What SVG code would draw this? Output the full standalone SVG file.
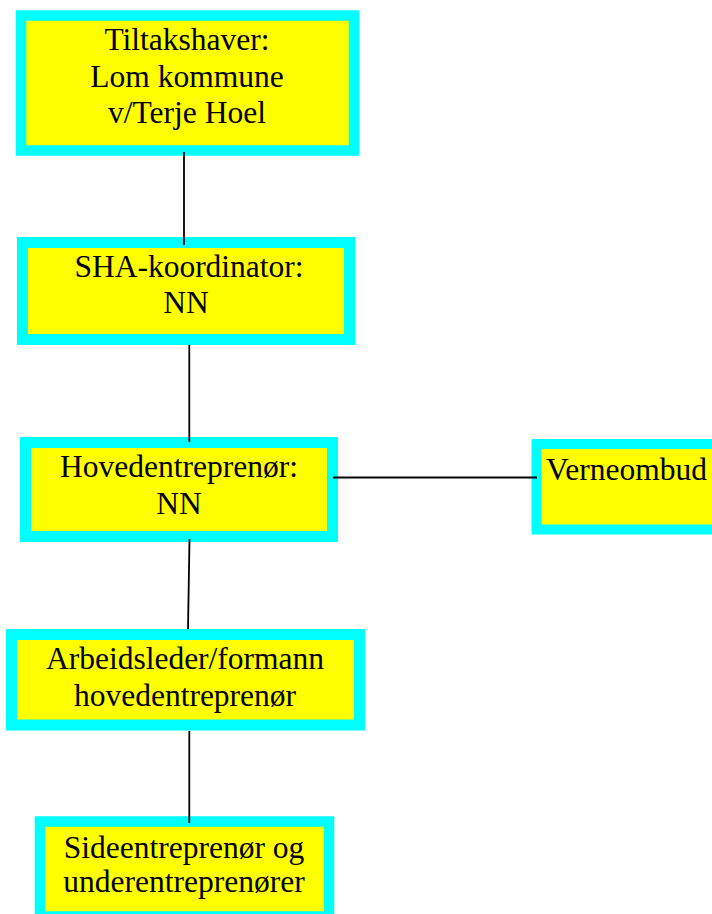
<svg xmlns="http://www.w3.org/2000/svg" width="712" height="914" viewBox="0 0 712 914">
<style>
.box{fill:#ffff00;stroke:#00ffff}
.t{font-family:"Liberation Serif","Times New Roman",serif;font-size:31.5px;fill:#000;text-anchor:middle}
.c{stroke:#000;stroke-width:1.8;fill:none}
</style>
<rect width="712" height="914" fill="#fff"/>
<g id="tiltakshaver">
<rect class="box" x="21" y="15.5" width="333" height="135" stroke-width="10.5"/>
<text class="t" x="187" y="50">Tiltakshaver:</text>
<text class="t" x="187" y="87">Lom kommune</text>
<text class="t" x="187" y="123">v/Terje Hoel</text>
</g>
<g id="sha">
<rect class="box" x="22.5" y="242.5" width="327" height="97" stroke-width="11"/>
<text class="t" x="189" y="277">SHA-koordinator:</text>
<text class="t" x="186" y="313">NN</text>
</g>
<g id="hovedentreprenor">
<rect class="box" x="25.5" y="442.5" width="307" height="94" stroke-width="11"/>
<text class="t" x="179" y="477">Hovedentreprenør:</text>
<text class="t" x="179" y="514">NN</text>
</g>
<g id="verneombud">
<rect class="box" x="536.5" y="444" width="200" height="85.5" stroke-width="10"/>
<text class="t" x="546" y="480" style="text-anchor:start">Verneombud</text>
</g>
<g id="arbeidsleder">
<rect class="box" x="11.5" y="634.5" width="348" height="90.5" stroke-width="11"/>
<text class="t" x="185" y="669">Arbeidsleder/formann</text>
<text class="t" x="185" y="706">hovedentreprenør</text>
</g>
<g id="sideentreprenor">
<rect class="box" x="40" y="821.5" width="289" height="95" stroke-width="10.5"/>
<text class="t" x="184" y="858">Sideentreprenør og</text>
<text class="t" x="184" y="892">underentreprenører</text>
</g>
<g id="connectors">
<line class="c" x1="184" y1="152" x2="184" y2="245"/>
<line class="c" x1="189.3" y1="345" x2="189.3" y2="442"/>
<line class="c" x1="189.5" y1="539" x2="188" y2="629"/>
<line class="c" x1="189.3" y1="731" x2="189.3" y2="823"/>
<line class="c" x1="333" y1="477.5" x2="537" y2="477.5"/>
</g>
</svg>
